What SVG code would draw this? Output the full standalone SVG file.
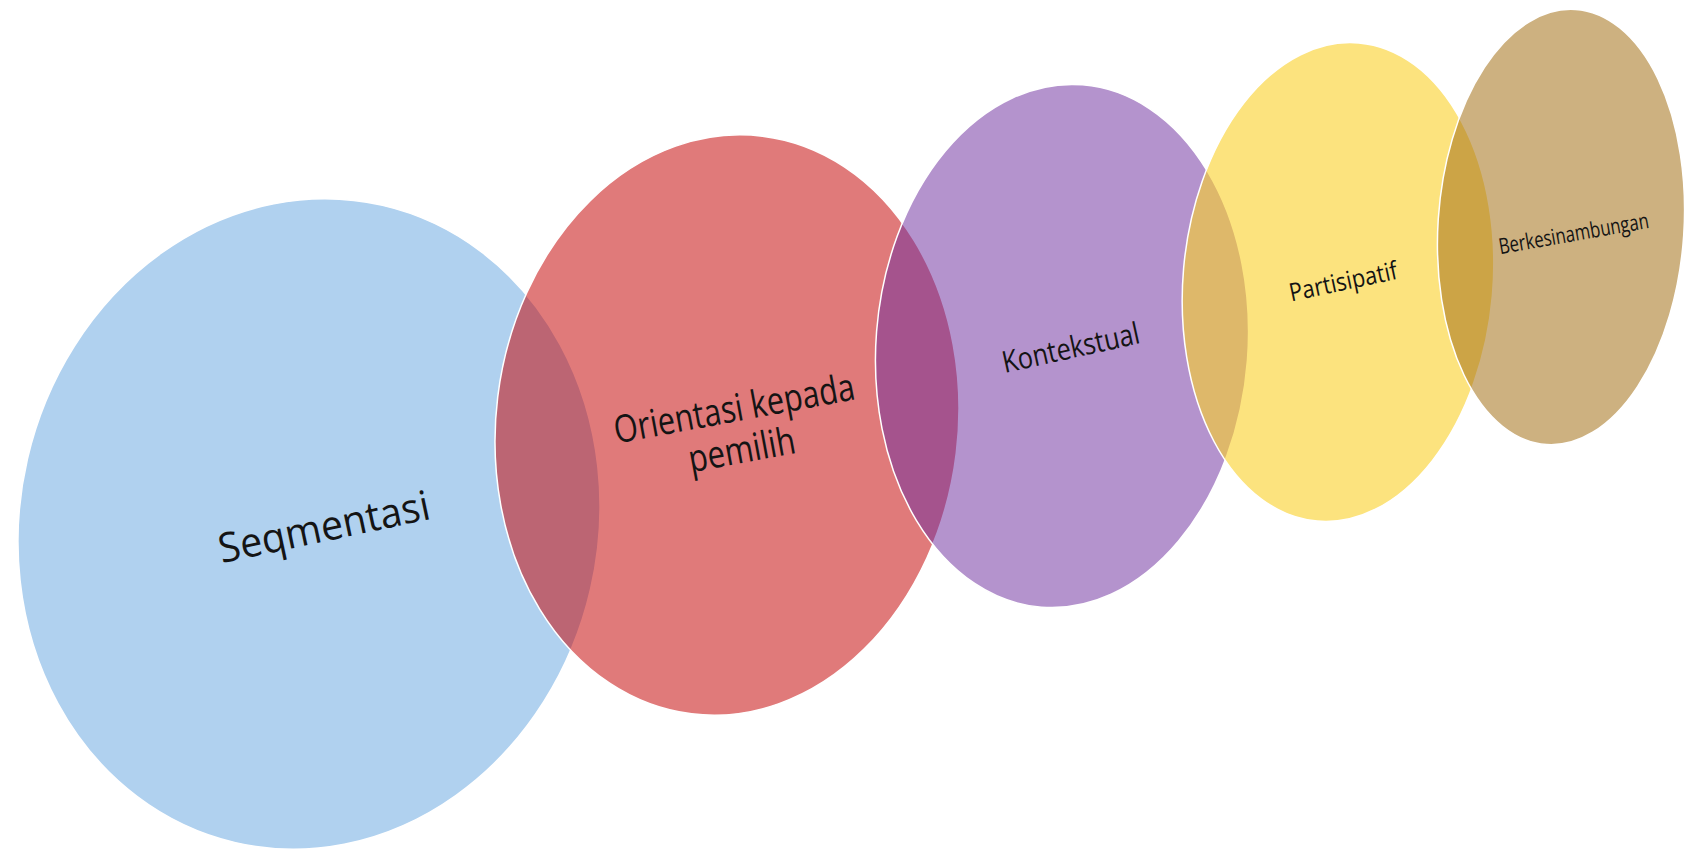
<svg xmlns="http://www.w3.org/2000/svg" width="1685" height="851" viewBox="0 0 1685 851">
<style>
.bub{stroke:#ffffff;stroke-width:1.5}
.lbl{font-family:"Open Sans","Liberation Sans",sans-serif;fill:#141414;text-anchor:middle}
</style>
<rect width="1685" height="851" fill="#ffffff"/>
<g id="seqmentasi">
<ellipse class="bub" cx="309" cy="524" rx="289" ry="327" transform="rotate(13 309 524)" fill="#B0D1EF"/>
<text class="lbl" x="327" y="541" font-size="41" textLength="215" lengthAdjust="spacingAndGlyphs" transform="rotate(-12 327 541)">Seqmentasi</text>
</g>
<g id="orientasi">
<ellipse class="bub" cx="727" cy="425" rx="231" ry="291" transform="rotate(7 727 425)" fill="rgb(198,9,9)" fill-opacity="0.54"/>
<g transform="rotate(-10.5 740 440)">
<text class="lbl" x="740" y="421" font-size="38" textLength="244" lengthAdjust="spacingAndGlyphs">Orientasi kepada</text>
<text class="lbl" x="740" y="463" font-size="38" textLength="108" lengthAdjust="spacingAndGlyphs">pemilih</text>
</g>
</g>
<g id="kontekstual">
<ellipse class="bub" cx="1062" cy="346" rx="186" ry="262" transform="rotate(4.5 1062 346)" fill="rgb(112,48,160)" fill-opacity="0.52"/>
<text class="lbl" x="1073" y="358" font-size="30" textLength="140" lengthAdjust="spacingAndGlyphs" transform="rotate(-12.4 1073 358)">Kontekstual</text>
</g>
<g id="partisipatif">
<ellipse class="bub" cx="1338" cy="282" rx="155" ry="240" transform="rotate(5 1338 282)" fill="rgb(250,208,40)" fill-opacity="0.6"/>
<text class="lbl" x="1345" y="290" font-size="25" textLength="110" lengthAdjust="spacingAndGlyphs" transform="rotate(-12 1345 290)">Partisipatif</text>
</g>
<g id="berkesinambungan">
<ellipse class="bub" cx="1561" cy="227" rx="123" ry="218" transform="rotate(3.8 1561 227)" fill="rgb(164,113,24)" fill-opacity="0.55"/>
<text class="lbl" x="1575" y="241" font-size="22" textLength="152" lengthAdjust="spacingAndGlyphs" transform="rotate(-10 1575 241)">Berkesinambungan</text>
</g>
<g id="connectors"/>
</svg>
